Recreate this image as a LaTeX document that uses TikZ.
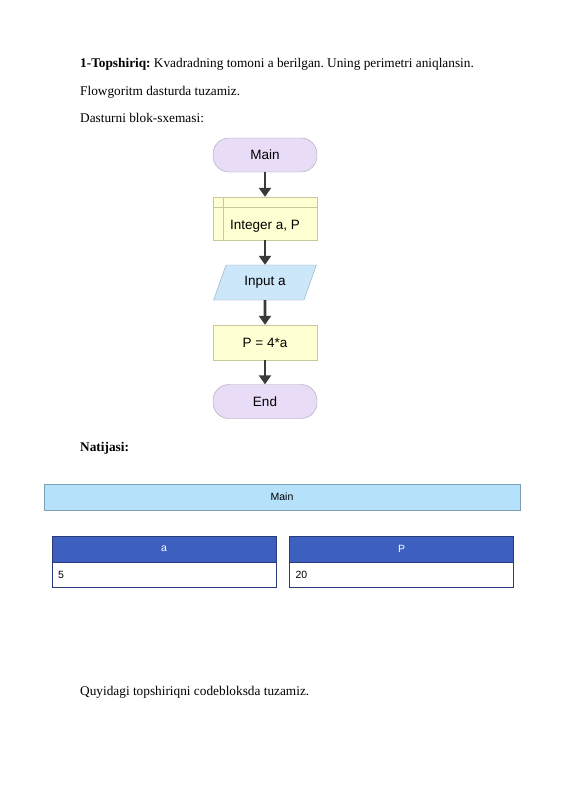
\documentclass[tikz,border=0pt]{standalone}
\usepackage{fontspec}
\setmainfont{Liberation Serif}
\setsansfont{Liberation Sans}
\usetikzlibrary{shapes.geometric,arrows.meta}
\definecolor{termfill}{HTML}{E8DCF6}
\definecolor{termline}{HTML}{A8A0B8}
\definecolor{procfill}{HTML}{FFFFD4}
\definecolor{procline}{HTML}{C8C898}
\definecolor{iofill}{HTML}{CCE6FA}
\definecolor{ioline}{HTML}{8FA8BC}
\definecolor{arrowcol}{HTML}{3A3A3A}
\definecolor{barfill}{HTML}{B5E1FA}
\definecolor{barline}{HTML}{7E9EB2}
\definecolor{headfill}{HTML}{3D5FBF}
\definecolor{tabline}{HTML}{2B3B7A}
\frenchspacing
\begin{document}
\begin{tikzpicture}[x=1pt,y=-1pt]
  \fill [white] (0, 0) rectangle (565, 800);  % page
  \tikzstyle{txt}=[anchor=base west, inner sep=0pt, font=\fontsize{13.3}{16}\selectfont]
  \tikzstyle{term}=[draw=termline, fill=termfill, rounded corners=16pt, minimum width=104pt, minimum height=34pt, font=\sffamily\fontsize{13.5}{16}\selectfont]
  \tikzstyle{proc}=[draw=procline, fill=procfill, minimum width=104pt, font=\sffamily\fontsize{13.5}{16}\selectfont]
  \tikzstyle{io}=[draw=ioline, fill=iofill, trapezium, trapezium left angle=68, trapezium right angle=112, trapezium stretches=true, minimum width=103pt, minimum height=35pt, font=\sffamily\fontsize{13.5}{16}\selectfont]
  \tikzstyle{flow}=[draw=arrowcol, line width=2.8pt, -{Triangle[length=9pt,width=12pt]}]
  \tikzstyle{bar}=[draw=barline, fill=barfill, minimum width=476pt, minimum height=26pt, font=\sffamily\fontsize{10.5}{12}\selectfont]
  \tikzstyle{head}=[draw=tabline, fill=headfill, text=white, minimum width=224pt, minimum height=26pt, font=\sffamily\fontsize{10.5}{12}\selectfont]
  \tikzstyle{cell}=[draw=tabline, fill=white, minimum width=224pt, minimum height=25pt, text width=212pt, align=left, font=\sffamily\fontsize{10.5}{12}\selectfont]

  \node[txt] (line1) at (80, 67) {\textbf{1-Topshiriq:} Kvadradning tomoni a berilgan. Uning perimetri aniqlansin.};
  \node[txt] (line2) at (80, 95) {Flowgoritm dasturda tuzamiz.};
  \node[txt] (line3) at (80, 122) {Dasturni blok-sxemasi:};

  \node[term] (main) at (265, 155) {Main};
  \node[proc, minimum height=43pt, text height=22pt, text depth=1pt] (decl) at (265, 218.5) {Integer a, P};
  \node[io] (input) at (265, 282.5) {Input a};
  \node[proc, minimum height=35pt] (calc) at (265, 342.5) {P = 4*a};
  \node[term] (end) at (265, 401.5) {End};

  \draw[procline] ([yshift=-10pt]decl.north west) -- ([yshift=-10pt]decl.north east);
  \draw[procline] ([xshift=10pt]decl.north west) -- ([xshift=10pt]decl.south west);

  \path[flow] (main) -- (decl);
  \path[flow] (decl) -- (input);
  \path[flow] (input) -- (calc);
  \path[flow] (calc) -- (end);

  \node[txt] (result) at (80, 451) {\textbf{Natijasi:}};

  \node[bar] (mainbar) at (282, 497) {Main};
  \node[head] (heada) at (164, 549) {a};
  \node[cell, anchor=north] (vala) at (heada.south) {5};
  \node[head] (headp) at (401.5, 549) {P};
  \node[cell, anchor=north] (valp) at (headp.south) {20};

  \node[txt] (line4) at (80, 695) {Quyidagi topshiriqni codebloksda tuzamiz.};
\end{tikzpicture}
\end{document}
